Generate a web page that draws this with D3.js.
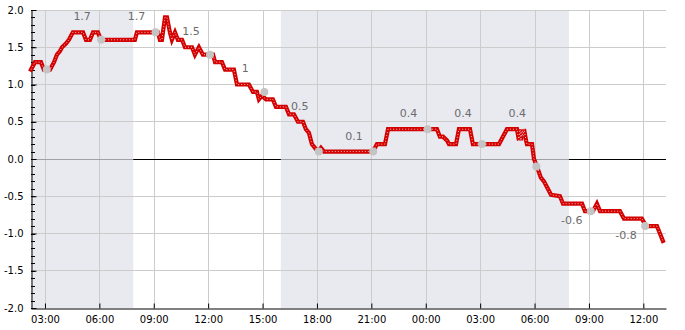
<!DOCTYPE html>
<html>
<head>
<meta charset="utf-8">
<script src="https://cdn.jsdelivr.net/npm/d3@7"></script>
<style>
  html, body { margin: 0; padding: 0; background: #fff; }
  svg { display: block; font-family: "DejaVu Sans", sans-serif; }
</style>
</head>
<body>
<svg id="chart" width="685" height="330"></svg>
<script>
// ---- data (time in hours from day-1 00:00; 24+ = next day) ----
const hours = [2.23, 2.45, 2.78, 2.94, 3.28, 3.50, 3.66, 3.83, 3.94, 4.16, 4.32, 4.43, 4.54,
  5.10, 5.26, 5.48, 5.65, 5.92, 6.09, 7.96, 8.07, 9.23, 9.34, 9.45, 9.62, 9.73, 9.89, 10.00,
  10.17, 10.33, 10.56, 10.72, 11.11, 11.27, 11.49, 11.71, 12.27, 12.38, 12.76, 12.93, 13.42,
  13.59, 14.25, 14.47, 14.69, 14.80, 14.97, 15.19, 15.57, 15.74, 16.29, 16.46, 16.73, 16.95,
  17.23, 17.39, 17.56, 17.72, 17.89, 18.06, 18.22, 18.39, 21.09, 21.31, 21.75, 21.92, 24.62,
  24.78, 24.95, 25.17, 25.28, 25.67, 25.83, 26.44, 26.60, 28.04, 28.48, 29.03, 29.14, 29.20,
  29.25, 29.31, 29.36, 29.42, 29.53, 29.58, 29.86, 29.97, 30.13, 30.35, 30.52, 30.69, 30.91,
  31.40, 31.57, 32.62, 32.78, 33.22, 33.44, 33.61, 34.71, 34.93, 35.92, 36.15, 36.75, 37.08];
const values = [1.2, 1.3, 1.3, 1.2, 1.2, 1.3, 1.4, 1.45, 1.5, 1.55, 1.6, 1.65, 1.7,
  1.7, 1.6, 1.6, 1.7, 1.7, 1.6, 1.6, 1.7, 1.7, 1.6, 1.6, 1.9, 1.9, 1.7, 1.6,
  1.7, 1.6, 1.6, 1.5, 1.5, 1.4, 1.5, 1.4, 1.4, 1.3, 1.3, 1.2, 1.2,
  1.0, 1.0, 0.9, 0.9, 0.8, 0.85, 0.8, 0.8, 0.7, 0.7, 0.6, 0.6, 0.5,
  0.5, 0.4, 0.35, 0.2, 0.15, 0.1, 0.15, 0.1, 0.1, 0.2, 0.2, 0.4, 0.4,
  0.3, 0.3, 0.25, 0.2, 0.2, 0.4, 0.4, 0.2, 0.2, 0.4, 0.4, 0.25, 0.4,
  0.25, 0.4, 0.3, 0.4, 0.25, 0.2, 0.2, 0.0, -0.1, -0.25, -0.3, -0.38, -0.48,
  -0.5, -0.6, -0.6, -0.7, -0.7, -0.6, -0.7, -0.7, -0.8, -0.8, -0.9, -0.9, -1.1];

const dotHours  = [3.1, 6.1, 9.1, 12.1, 15.1, 18.1, 21.1, 24.1, 27.1, 30.1, 33.1, 36.1];
const dotValues = [1.2, 1.6, 1.7, 1.4, 0.9, 0.1, 0.1, 0.4, 0.2, -0.1, -0.7, -0.9];

const labelHours  = [5.05, 8.05, 11.05, 14.05, 17.05, 20.05, 23.05, 26.05, 29.05, 32.05, 35.05];
const labelValues = [1.7, 1.7, 1.5, 1, 0.5, 0.1, 0.4, 0.4, 0.4, -0.6, -0.8];
const labelTexts  = ["1.7", "1.7", "1.5", "1", "0.5", "0.1", "0.4", "0.4", "0.4", "-0.6", "-0.8"];

const nightStarts = [2.23, 16.01];
const nightEnds   = [7.87, 31.90];

const xDomain = [2.23, 37.25];
const yDomain = [-2, 2];
const xTickValues = [3, 6, 9, 12, 15, 18, 21, 24, 27, 30, 33, 36];
const yTickValues = [-2, -1.5, -1, -0.5, 0, 0.5, 1, 1.5, 2];
const yMinorTicks = d3.range(-20, 21).map(d => d / 10);

// ---- drawing ----
const svg = d3.select("#chart");
const L = 31, R = 666, T = 10, B = 308;
const x = d3.scaleLinear().domain(xDomain).range([L, R]);
const y = d3.scaleLinear().domain(yDomain).range([B, T]);

// night shading
svg.append("g").selectAll("rect").data(nightStarts).join("rect")
  .attr("x", (d, i) => x(d))
  .attr("y", T)
  .attr("width", (d, i) => x(nightEnds[i]) - x(d))
  .attr("height", B - T)
  .attr("fill", "#e9eaf0");

// gridlines
const grid = svg.append("g");
grid.selectAll("line.h").data(yTickValues.filter(v => v !== 0 && v !== -2)).join("line")
  .attr("x1", L).attr("x2", R)
  .attr("y1", d => y(d)).attr("y2", d => y(d))
  .attr("stroke", "#cccccc").attr("stroke-width", 1).attr("shape-rendering", "crispEdges");
grid.selectAll("line.v").data(xTickValues).join("line")
  .attr("x1", d => Math.round(x(d)) + 0.5).attr("x2", d => Math.round(x(d)) + 0.5)
  .attr("y1", T).attr("y2", B)
  .attr("stroke", "#cccccc").attr("stroke-width", 1);

// zero line: black in day, gray in night
svg.append("line")
  .attr("x1", L).attr("x2", R).attr("y1", Math.round(y(0)) + 0.5).attr("y2", Math.round(y(0)) + 0.5)
  .attr("stroke", "#000").attr("stroke-width", 1);
svg.append("g").selectAll("line").data(nightStarts).join("line")
  .attr("x1", d => x(d)).attr("x2", (d, i) => x(nightEnds[i]))
  .attr("y1", Math.round(y(0)) + 0.5).attr("y2", Math.round(y(0)) + 0.5)
  .attr("stroke", "#a0a0a6").attr("stroke-width", 1);

// axes
const fmtY = d => d3.format(".1f")(d).replace("\u2212", "-");
const yAxis = d3.axisLeft(y).tickValues(yTickValues).tickFormat(fmtY)
  .tickSize(-5).tickSizeOuter(0).tickPadding(8);
const gy = svg.append("g").attr("transform", `translate(${L + 0.5},0)`).call(yAxis);
gy.selectAll("text").attr("font-size", 10).attr("font-family", "DejaVu Sans").attr("fill", "#000");
gy.selectAll("line,path").attr("stroke", "#000");

// minor y ticks
svg.append("g").selectAll("line").data(yMinorTicks).join("line")
  .attr("x1", L).attr("x2", L + 4)
  .attr("y1", d => Math.round(y(d)) + 0.5).attr("y2", d => Math.round(y(d)) + 0.5)
  .attr("stroke", "#000").attr("stroke-width", 1);

const fmtX = h => String(((h % 24) + 24) % 24).padStart(2, "0") + ":00";
const xAxis = d3.axisBottom(x).tickValues(xTickValues).tickFormat(fmtX)
  .tickSize(-5).tickSizeOuter(0).tickPadding(7);
const gx = svg.append("g").attr("transform", `translate(0,${B + 0.5})`).call(xAxis);
gx.selectAll("text").attr("font-size", 10).attr("font-family", "DejaVu Sans").attr("fill", "#000");
gx.selectAll("line,path").attr("stroke", "#000");

// data line
const pts = hours.map((h, i) => [h, values[i]]);
const line = d3.line().x(d => x(d[0])).y(d => y(d[1]));
svg.append("path").datum(pts).attr("d", line)
  .attr("fill", "none").attr("stroke", "#d40000").attr("stroke-width", 4.2)
  .attr("stroke-linejoin", "miter").attr("stroke-linecap", "square");
svg.append("path").datum(pts).attr("d", line)
  .attr("fill", "none").attr("stroke", "#ffffff").attr("stroke-opacity", 0.75)
  .attr("stroke-width", 1).attr("stroke-dasharray", "1,2");

// gray dots
svg.append("g").selectAll("circle").data(dotHours).join("circle")
  .attr("cx", d => x(d)).attr("cy", (d, i) => y(dotValues[i]))
  .attr("r", 4).attr("fill", "#c4c4c4");

// value labels
svg.append("g").selectAll("text").data(labelHours).join("text")
  .attr("x", d => x(d))
  .attr("y", (d, i) => y(labelValues[i]) + (labelValues[i] >= 0 ? -16 : 16))
  .attr("dy", "0.36em")
  .attr("text-anchor", "middle")
  .attr("font-size", 11)
  .attr("font-family", "DejaVu Sans")
  .attr("fill", "#6c6c6c")
  .text((d, i) => labelTexts[i]);
</script>
</body>
</html>
